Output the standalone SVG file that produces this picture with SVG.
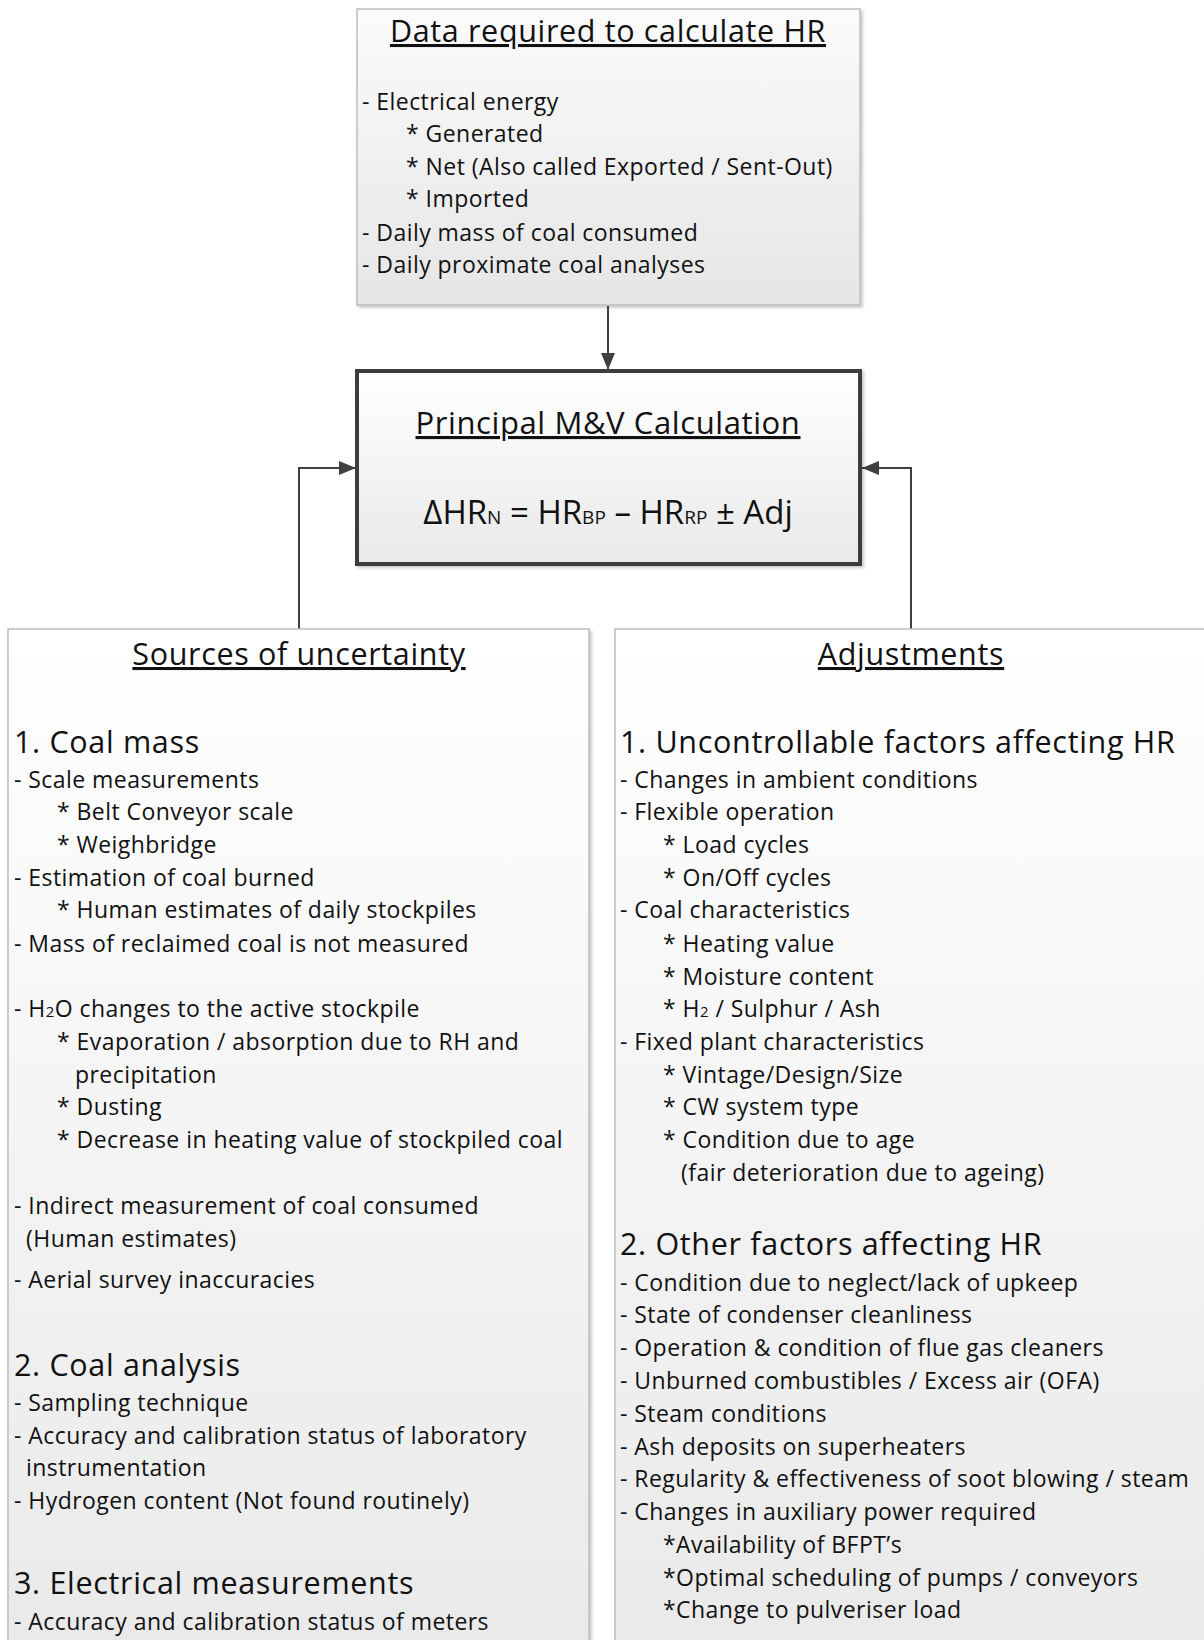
<svg xmlns="http://www.w3.org/2000/svg" width="1204" height="1640" viewBox="0 0 1204 1640">
  <defs>
    <linearGradient id="boxFill" x1="0" y1="0" x2="0" y2="1">
      <stop offset="0" stop-color="#ffffff"/>
      <stop offset="1" stop-color="#e9e9e9"/>
    </linearGradient>
    <linearGradient id="topFill" x1="0" y1="0" x2="0" y2="1">
      <stop offset="0" stop-color="#fbfbfb"/>
      <stop offset="1" stop-color="#e6e6e6"/>
    </linearGradient>
    <filter id="shadow" x="-5%" y="-5%" width="110%" height="110%">
      <feDropShadow dx="2" dy="2" stdDeviation="1.5" flood-color="#000" flood-opacity="0.22"/>
    </filter>
    <marker id="arrow" viewBox="0 0 17 14" refX="17" refY="7" markerWidth="17" markerHeight="14" markerUnits="userSpaceOnUse" orient="auto">
      <path d="M0,0 L17,7 L0,14 z" fill="#404040"/>
    </marker>
  </defs>
  <style>
    text { font-family: "Open Sans", "Noto Sans", "Liberation Sans", sans-serif; fill: #111; }
    .title { font-size: 30.5px; letter-spacing: 0.65px; text-anchor: middle; text-decoration: underline; }
    .head { font-size: 30.5px; letter-spacing: 0.68px; }
    .body { font-size: 23px; letter-spacing: 0.45px; }
    .formula { font-size: 33px; text-anchor: middle; }
    .sub { font-size: 19px; }
    .thin { fill: url(#boxFill); stroke: #bdbdbd; stroke-width: 1.5; }
    .conn { fill: none; stroke: #404040; stroke-width: 2; }
  </style>
  <rect width="1204" height="1640" fill="#ffffff"/>

  <!-- connectors -->
  <g id="connectors">
    <path class="conn" d="M608,306 L608,370" marker-end="url(#arrow)"/>
    <path class="conn" d="M299,629 L299,468 L356,468" marker-end="url(#arrow)"/>
    <path class="conn" d="M911,629 L911,468 L862,468" marker-end="url(#arrow)"/>
  </g>

  <!-- input data -->
  <g id="data-required">
    <rect x="357" y="9" width="503" height="296" fill="url(#topFill)" stroke="#bdbdbd" stroke-width="1.5" filter="url(#shadow)"/>
    <text class="title" x="608" y="42">Data required to calculate HR</text>
    <g class="body">
      <text x="362" y="110">- Electrical energy</text>
      <text x="406" y="142">* Generated</text>
      <text x="406" y="175">* Net (Also called Exported / Sent-Out)</text>
      <text x="406" y="207">* Imported</text>
      <text x="362" y="241">- Daily mass of coal consumed</text>
      <text x="362" y="273">- Daily proximate coal analyses</text>
    </g>
  </g>

  <!-- central calculation -->
  <g id="principal-calculation">
    <rect x="357" y="371" width="503" height="193" fill="url(#boxFill)" stroke="#3d3d3d" stroke-width="4" filter="url(#shadow)"/>
    <text class="title" x="608" y="434" style="font-size:31px;letter-spacing:0.6px">Principal M&amp;V Calculation</text>
    <text class="formula" x="608" y="524">ΔHR<tspan class="sub">N</tspan> = HR<tspan class="sub">BP</tspan> – HR<tspan class="sub">RP</tspan> ± Adj</text>
  </g>

  <!-- uncertainty sources -->
  <g id="sources-of-uncertainty">
    <rect class="thin" x="8" y="629" width="581" height="1030" filter="url(#shadow)"/>
    <text class="title" x="299" y="665">Sources of uncertainty</text>
    <text class="head" x="14" y="753">1. Coal mass</text>
    <g class="body">
      <text x="14" y="788">- Scale measurements</text>
      <text x="57" y="820">* Belt Conveyor scale</text>
      <text x="57" y="853">* Weighbridge</text>
      <text x="14" y="886">- Estimation of coal burned</text>
      <text x="57" y="918">* Human estimates of daily stockpiles</text>
      <text x="14" y="952">- Mass of reclaimed coal is not measured</text>
      <text x="14" y="1017">- H<tspan style="font-size:15px">2</tspan>O changes to the active stockpile</text>
      <text x="57" y="1050">* Evaporation / absorption due to RH and</text>
      <text x="75" y="1083">precipitation</text>
      <text x="57" y="1115">* Dusting</text>
      <text x="57" y="1148">* Decrease in heating value of stockpiled coal</text>
      <text x="14" y="1214">- Indirect measurement of coal consumed</text>
      <text x="26" y="1247">(Human estimates)</text>
      <text x="14" y="1288">- Aerial survey inaccuracies</text>
    </g>
    <text class="head" x="14" y="1376">2. Coal analysis</text>
    <g class="body">
      <text x="14" y="1411">- Sampling technique</text>
      <text x="14" y="1444">- Accuracy and calibration status of laboratory</text>
      <text x="26" y="1476">instrumentation</text>
      <text x="14" y="1509">- Hydrogen content (Not found routinely)</text>
    </g>
    <text class="head" x="14" y="1594">3. Electrical measurements</text>
    <text class="body" x="14" y="1630">- Accuracy and calibration status of meters</text>
  </g>

  <!-- adjustments -->
  <g id="adjustments">
    <rect class="thin" x="615" y="629" width="600" height="1030" filter="url(#shadow)"/>
    <text class="title" x="911" y="665">Adjustments</text>
    <text class="head" x="620" y="753">1. Uncontrollable factors affecting HR</text>
    <g class="body">
      <text x="620" y="788">- Changes in ambient conditions</text>
      <text x="620" y="820">- Flexible operation</text>
      <text x="663" y="853">* Load cycles</text>
      <text x="663" y="886">* On/Off cycles</text>
      <text x="620" y="918">- Coal characteristics</text>
      <text x="663" y="952">* Heating value</text>
      <text x="663" y="985">* Moisture content</text>
      <text x="663" y="1017">* H<tspan style="font-size:15px">2</tspan> / Sulphur / Ash</text>
      <text x="620" y="1050">- Fixed plant characteristics</text>
      <text x="663" y="1083">* Vintage/Design/Size</text>
      <text x="663" y="1115">* CW system type</text>
      <text x="663" y="1148">* Condition due to age</text>
      <text x="681" y="1181">(fair deterioration due to ageing)</text>
    </g>
    <text class="head" x="620" y="1255">2. Other factors affecting HR</text>
    <g class="body">
      <text x="620" y="1291">- Condition due to neglect/lack of upkeep</text>
      <text x="620" y="1323">- State of condenser cleanliness</text>
      <text x="620" y="1356">- Operation &amp; condition of flue gas cleaners</text>
      <text x="620" y="1389">- Unburned combustibles / Excess air (OFA)</text>
      <text x="620" y="1422">- Steam conditions</text>
      <text x="620" y="1455">- Ash deposits on superheaters</text>
      <text x="620" y="1487">- Regularity &amp; effectiveness of soot blowing / steam</text>
      <text x="620" y="1520">- Changes in auxiliary power required</text>
      <text x="663" y="1553">*Availability of BFPT’s</text>
      <text x="663" y="1586">*Optimal scheduling of pumps / conveyors</text>
      <text x="663" y="1618">*Change to pulveriser load</text>
    </g>
  </g>
</svg>
